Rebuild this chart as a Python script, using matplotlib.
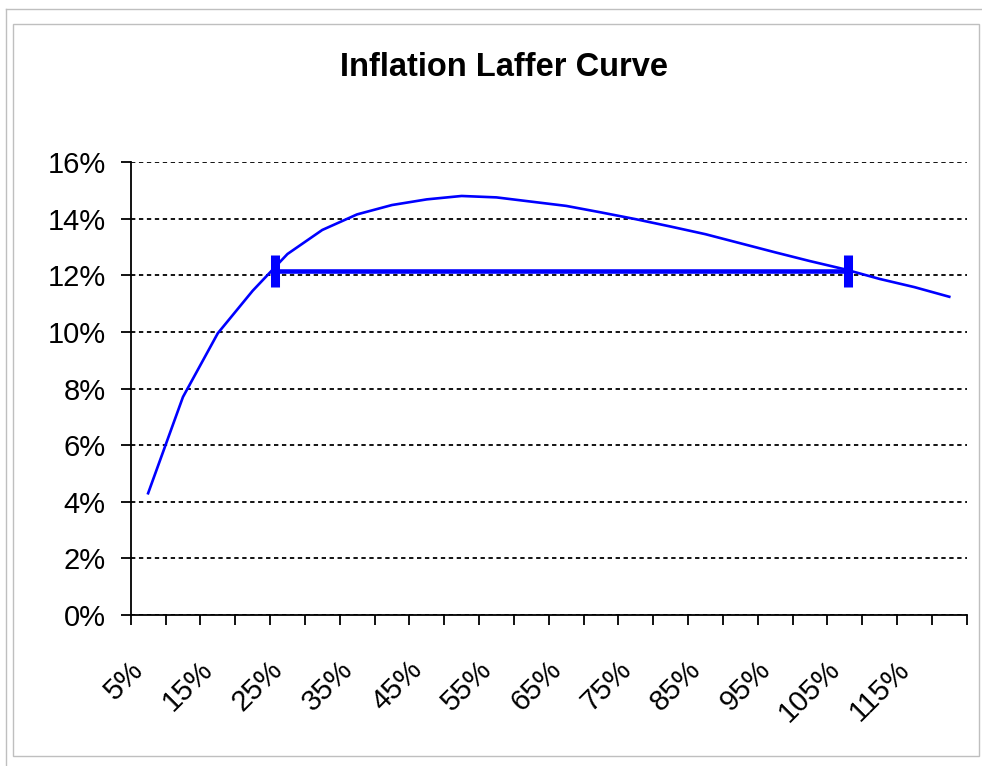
import matplotlib
matplotlib.use('Agg')
import matplotlib.pyplot as plt
import matplotlib.transforms as mtransforms
from matplotlib.patches import Rectangle
from matplotlib.lines import Line2D
from matplotlib.ticker import FuncFormatter, MultipleLocator

plt.rcParams['font.family'] = ['Liberation Sans', 'DejaVu Sans']

# inflation rate (%) and seigniorage revenue (% of GDP)
inflation = [5, 10, 15, 20, 25, 30, 35, 40, 45, 50, 55, 60,
             65, 70, 75, 80, 85, 90, 95, 100, 105, 110, 115, 120]
revenue = [4.3, 7.7, 9.95, 11.45, 12.75, 13.6, 14.15, 14.48, 14.68, 14.8, 14.75, 14.6,
           14.45, 14.22, 13.98, 13.72, 13.45, 13.13, 12.81, 12.5, 12.21, 11.87, 11.58, 11.24]
tick_labels = ['5%', '15%', '25%', '35%', '45%', '55%', '65%', '75%', '85%', '95%', '105%', '115%']

# same revenue reached at two inflation rates
bar_x = [23.2, 105.5]
bar_y = [12.15, 12.15]

W, H = 982, 766
fig = plt.figure(figsize=(W / 100, H / 100), dpi=100)

# frames around the chart
gray = '#bfbfbf'
fig.add_artist(Line2D([6 / W, 6 / W], [0, 1 - 9 / H], color=gray, lw=1, transform=fig.transFigure))
fig.add_artist(Line2D([6 / W, 1], [1 - 9 / H, 1 - 9 / H], color=gray, lw=1, transform=fig.transFigure))
fig.add_artist(Rectangle((13 / W, 1 - 756 / H), (979 - 13) / W, (756 - 24) / H, fill=False,
                         edgecolor=gray, lw=1, transform=fig.transFigure))

ax = fig.add_axes([130.7 / W, 1 - 615 / H, (966.7 - 130.7) / W, (615 - 162) / H])

ax.plot(inflation, revenue, color='#0000ff', lw=1.9, zorder=3)
ax.plot(bar_x, bar_y, color='#0000ff', lw=3.3, marker='|', markersize=23,
        markeredgewidth=6.5, solid_capstyle='butt', zorder=4)

ax.set_xlim(2.5, 122.5)
ax.set_ylim(0, 16)
ax.yaxis.set_major_locator(MultipleLocator(2))
ax.yaxis.set_major_formatter(FuncFormatter(lambda v, p: '{:.0f}%'.format(v)))
ax.grid(axis='y', color='black', lw=1.3, linestyle=(0, (2.4, 2.0)))
ax.set_axisbelow(True)

ax.set_xticks([5 + 10 * i for i in range(len(tick_labels))])
ax.set_xticklabels(tick_labels, rotation=45, ha='right', va='top', rotation_mode='anchor')
ax.set_xticks([2.5 + 5 * i for i in range(25)], minor=True)
ax.tick_params(axis='x', which='major', length=0, pad=29, labelsize=21)
ax.tick_params(axis='x', which='minor', length=7, width=1.3, direction='out')
ax.tick_params(axis='y', length=7, width=1.3, pad=11, labelsize=21)

shift = mtransforms.ScaledTranslation(-19 / 100, 0, fig.dpi_scale_trans)
for lab in ax.get_xticklabels():
    lab.set_transform(lab.get_transform() + shift)

for side in ['top', 'right']:
    ax.spines[side].set_visible(False)
ax.spines['left'].set_linewidth(1.3)
ax.spines['bottom'].set_linewidth(1.3)

fig.text(504 / W, 1 - 68 / H, 'Inflation Laffer Curve', ha='center', va='center',
         fontsize=23.5, fontweight='bold')

fig.savefig('out.png', dpi=100)
